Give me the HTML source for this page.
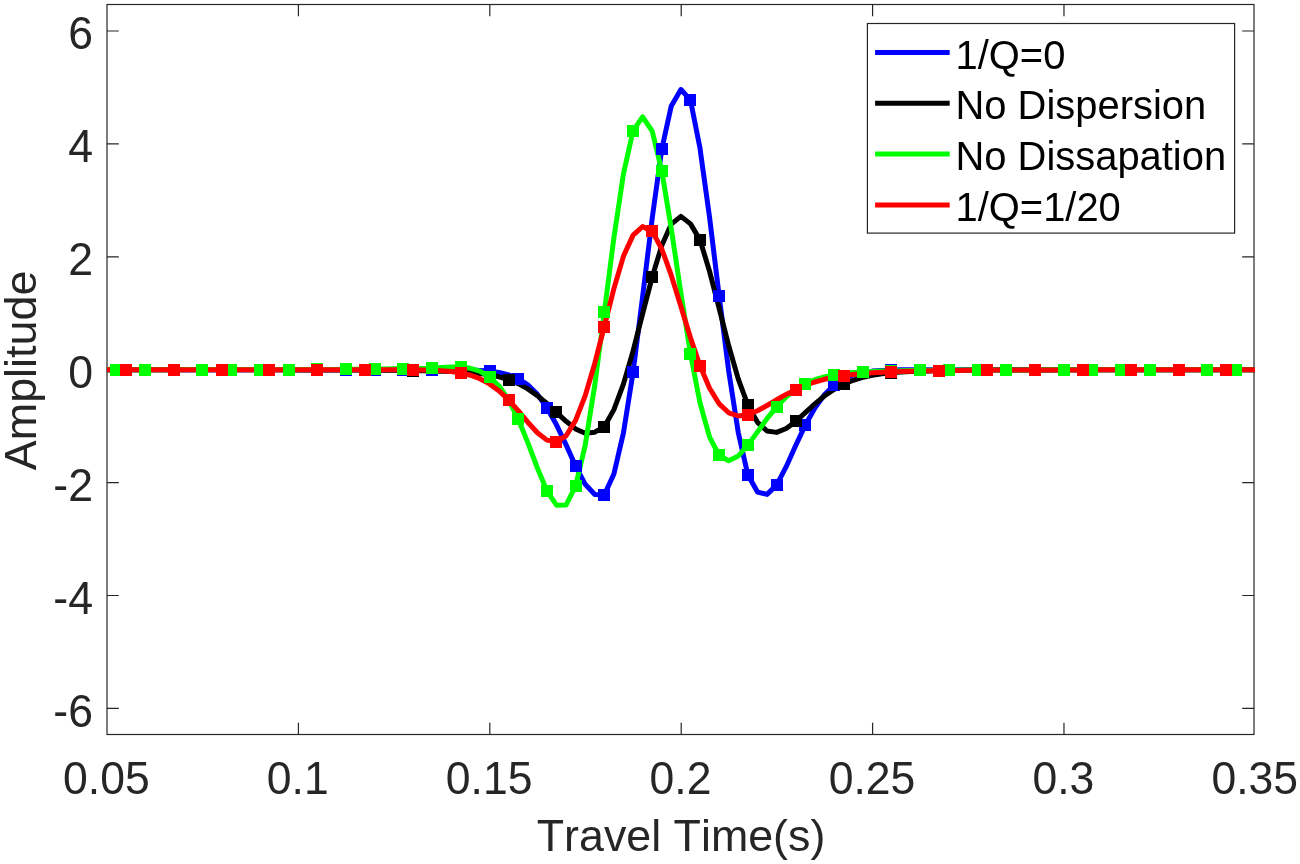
<!DOCTYPE html>
<html lang="en"><head><meta charset="utf-8"><title>Amplitude vs Travel Time</title>
<style>html,body{margin:0;padding:0;background:#fff}svg{display:block}</style></head>
<body>
<svg width="1300" height="864" viewBox="0 0 1300 864">
<rect width="1300" height="864" fill="#fff"/>
<path d="M298.42 734.50V722.70M298.42 4.50V16.30M489.81 734.50V722.70M489.81 4.50V16.30M681.20 734.50V722.70M681.20 4.50V16.30M872.59 734.50V722.70M872.59 4.50V16.30M1063.98 734.50V722.70M1063.98 4.50V16.30M107.00 708.40H118.80M1254.00 708.40H1242.20M107.00 595.50H118.80M1254.00 595.50H1242.20M107.00 482.60H118.80M1254.00 482.60H1242.20M107.00 369.70H118.80M1254.00 369.70H1242.20M107.00 256.80H118.80M1254.00 256.80H1242.20M107.00 143.90H118.80M1254.00 143.90H1242.20M107.00 31.00H118.80M1254.00 31.00H1242.20" stroke="#262626" stroke-width="1.2" fill="none"/>
<rect x="107.00" y="4.50" width="1147.00" height="730.00" stroke="#262626" stroke-width="1.2" fill="none"/>
<defs><clipPath id="ax"><rect x="106.7" y="4.5" width="1148.3" height="730.0"/></clipPath></defs>
<g clip-path="url(#ax)" fill="none" stroke-width="5" stroke-linejoin="round" stroke-linecap="butt">
<polyline stroke="#0000ff" points="106.7,369.7 116.3,369.7 125.9,369.7 135.4,369.7 145.0,369.7 154.6,369.7 164.1,369.7 173.7,369.7 183.3,369.7 192.9,369.7 202.4,369.7 212.0,369.7 221.6,369.7 231.1,369.7 240.7,369.7 250.3,369.7 259.8,369.7 269.4,369.7 279.0,369.7 288.6,369.7 298.1,369.7 307.7,369.7 317.3,369.7 326.8,369.7 336.4,369.7 346.0,369.7 355.5,369.7 365.1,369.7 374.7,369.7 384.2,369.7 393.8,369.7 403.4,369.7 413.0,369.7 422.5,369.7 432.1,369.7 441.7,369.7 451.2,369.8 460.8,369.8 470.4,370.0 479.9,370.4 489.5,371.1 499.1,372.5 508.6,374.9 518.2,378.5 527.8,384.9 537.4,394.4 546.9,407.7 556.5,424.8 566.1,444.9 575.6,466.0 585.2,484.3 594.8,494.5 604.3,494.9 613.9,474.0 623.5,432.6 633.1,372.0 642.6,296.8 652.2,218.3 661.8,149.0 671.3,105.9 680.9,89.5 690.5,100.2 700.0,148.3 709.6,217.7 719.2,296.3 728.7,371.1 738.3,432.7 747.9,475.1 757.5,492.1 767.0,494.4 776.6,485.1 786.2,466.7 795.7,445.5 805.3,425.1 814.9,408.1 824.4,394.8 834.0,385.3 843.6,378.9 853.2,374.9 862.7,372.5 872.3,371.1 881.9,370.4 891.4,370.0 901.0,369.8 910.6,369.8 920.1,369.7 929.7,369.7 939.3,369.7 948.8,369.7 958.4,369.7 968.0,369.7 977.6,369.7 987.1,369.7 996.7,369.7 1006.3,369.7 1015.8,369.7 1025.4,369.7 1035.0,369.7 1044.5,369.7 1054.1,369.7 1063.7,369.7 1073.2,369.7 1082.8,369.7 1092.4,369.7 1102.0,369.7 1111.5,369.7 1121.1,369.7 1130.7,369.7 1140.2,369.7 1149.8,369.7 1159.4,369.7 1168.9,369.7 1178.5,369.7 1188.1,369.7 1197.7,369.7 1207.2,369.7 1216.8,369.7 1226.4,369.7 1235.9,369.7 1245.5,369.7 1255.1,369.7"/>
<polyline stroke="#000000" points="106.7,369.7 116.3,369.7 125.9,369.7 135.4,369.7 145.0,369.7 154.6,369.7 164.1,369.7 173.7,369.7 183.3,369.8 192.9,369.8 202.4,369.8 212.0,369.8 221.6,369.8 231.1,369.8 240.7,369.8 250.3,369.8 259.8,369.8 269.4,369.8 279.0,369.8 288.6,369.8 298.1,369.9 307.7,369.9 317.3,369.9 326.8,369.9 336.4,369.9 346.0,370.0 355.5,370.0 365.1,370.1 374.7,370.1 384.2,370.2 393.8,370.3 403.4,370.4 413.0,370.5 422.5,370.7 432.1,370.9 441.7,371.2 451.2,371.5 460.8,372.1 470.4,372.7 479.9,373.5 489.5,374.9 499.1,376.8 508.6,379.6 518.2,383.6 527.8,388.9 537.4,395.6 546.9,403.5 556.5,412.4 566.1,421.3 575.6,428.9 585.2,433.3 594.8,432.2 604.3,426.7 613.9,409.6 623.5,383.9 633.1,350.9 642.6,313.8 652.2,277.0 661.8,245.5 671.3,224.1 680.9,216.4 690.5,223.9 700.0,239.9 709.6,271.5 719.2,308.5 728.7,345.8 738.3,379.1 747.9,405.1 757.5,422.3 767.0,431.0 776.6,432.4 786.2,428.5 795.7,421.4 805.3,412.6 814.9,403.9 824.4,396.0 834.0,389.5 843.6,384.3 853.2,380.3 862.7,377.4 872.3,375.3 881.9,373.8 891.4,372.8 901.0,372.1 910.6,371.5 920.1,371.2 929.7,370.9 939.3,370.7 948.8,370.5 958.4,370.4 968.0,370.3 977.6,370.2 987.1,370.1 996.7,370.1 1006.3,370.0 1015.8,370.0 1025.4,369.9 1035.0,369.9 1044.5,369.9 1054.1,369.9 1063.7,369.9 1073.2,369.8 1082.8,369.8 1092.4,369.8 1102.0,369.8 1111.5,369.8 1121.1,369.8 1130.7,369.8 1140.2,369.8 1149.8,369.8 1159.4,369.8 1168.9,369.8 1178.5,369.8 1188.1,369.7 1197.7,369.7 1207.2,369.7 1216.8,369.7 1226.4,369.7 1235.9,369.7 1245.5,369.7 1255.1,369.7"/>
<polyline stroke="#00ff00" points="106.7,369.7 116.3,369.7 125.9,369.7 135.4,369.7 145.0,369.7 154.6,369.7 164.1,369.7 173.7,369.7 183.3,369.6 192.9,369.6 202.4,369.6 212.0,369.6 221.6,369.6 231.1,369.6 240.7,369.6 250.3,369.6 259.8,369.6 269.4,369.6 279.0,369.6 288.6,369.5 298.1,369.5 307.7,369.5 317.3,369.5 326.8,369.4 336.4,369.4 346.0,369.3 355.5,369.3 365.1,369.2 374.7,369.1 384.2,368.9 393.8,368.8 403.4,368.5 413.0,368.5 422.5,368.4 432.1,368.2 441.7,367.6 451.2,367.1 460.8,367.0 470.4,368.3 479.9,371.2 489.5,377.0 499.1,386.0 508.6,400.0 518.2,419.0 527.8,442.6 537.4,468.0 546.9,490.8 556.5,505.2 566.1,505.0 575.6,486.1 585.2,445.2 594.8,385.0 604.3,312.3 613.9,237.8 623.5,173.6 633.1,130.7 642.6,116.8 652.2,131.2 661.8,171.0 671.3,228.9 680.9,293.1 690.5,353.9 700.0,403.0 709.6,437.1 719.2,455.5 728.7,460.7 738.3,455.9 747.9,445.1 757.5,431.9 767.0,418.6 776.6,406.8 786.2,396.9 795.7,389.3 805.3,383.8 814.9,379.7 824.4,376.9 834.0,374.9 843.6,373.6 853.2,372.6 862.7,372.0 872.3,371.5 881.9,371.1 891.4,370.9 901.0,370.7 910.6,370.5 920.1,370.4 929.7,370.3 939.3,370.2 948.8,370.1 958.4,370.1 968.0,370.0 977.6,370.0 987.1,370.0 996.7,369.9 1006.3,369.9 1015.8,369.9 1025.4,369.9 1035.0,369.8 1044.5,369.8 1054.1,369.8 1063.7,369.8 1073.2,369.8 1082.8,369.8 1092.4,369.8 1102.0,369.8 1111.5,369.8 1121.1,369.8 1130.7,369.8 1140.2,369.8 1149.8,369.7 1159.4,369.7 1168.9,369.7 1178.5,369.7 1188.1,369.7 1197.7,369.7 1207.2,369.7 1216.8,369.7 1226.4,369.7 1235.9,369.7 1245.5,369.7 1255.1,369.7"/>
<polyline stroke="#ff0000" points="106.7,369.7 116.3,369.7 125.9,369.7 135.4,369.7 145.0,369.7 154.6,369.7 164.1,369.7 173.7,369.7 183.3,369.7 192.9,369.7 202.4,369.7 212.0,369.7 221.6,369.7 231.1,369.7 240.7,369.7 250.3,369.7 259.8,369.7 269.4,369.7 279.0,369.7 288.6,369.7 298.1,369.7 307.7,369.7 317.3,369.7 326.8,369.7 336.4,369.7 346.0,369.7 355.5,369.7 365.1,369.7 374.7,369.7 384.2,369.7 393.8,369.7 403.4,369.7 413.0,369.8 422.5,369.9 432.1,370.2 441.7,370.7 451.2,371.5 460.8,372.9 470.4,375.2 479.9,378.7 489.5,383.9 499.1,390.9 508.6,399.9 518.2,410.7 527.8,422.2 537.4,432.7 546.9,440.1 556.5,441.9 566.1,435.8 575.6,420.4 585.2,395.7 594.8,363.2 604.3,326.5 613.9,288.6 623.5,256.1 633.1,235.1 642.6,226.6 652.2,231.4 661.8,249.0 671.3,275.4 680.9,306.5 690.5,337.8 700.0,365.7 709.6,388.3 719.2,403.9 728.7,412.8 738.3,416.0 747.9,414.8 757.5,410.8 767.0,405.5 776.6,399.8 786.2,394.4 795.7,389.7 805.3,385.4 814.9,382.0 824.4,379.3 834.0,377.2 843.6,375.5 853.2,374.4 862.7,373.5 872.3,372.8 881.9,372.2 891.4,371.8 901.0,371.5 910.6,371.2 920.1,371.0 929.7,370.8 939.3,370.6 948.8,370.5 958.4,370.4 968.0,370.3 977.6,370.2 987.1,370.2 996.7,370.1 1006.3,370.1 1015.8,370.0 1025.4,370.0 1035.0,370.0 1044.5,369.9 1054.1,369.9 1063.7,369.9 1073.2,369.9 1082.8,369.9 1092.4,369.9 1102.0,369.8 1111.5,369.8 1121.1,369.8 1130.7,369.8 1140.2,369.8 1149.8,369.8 1159.4,369.8 1168.9,369.8 1178.5,369.8 1188.1,369.8 1197.7,369.8 1207.2,369.8 1216.8,369.8 1226.4,369.8 1235.9,369.7 1245.5,369.7 1255.1,369.7"/>
<g fill="#0000ff"><rect x="110" y="364" width="12" height="12"/><rect x="139" y="364" width="12" height="12"/><rect x="168" y="364" width="12" height="12"/><rect x="196" y="364" width="12" height="12"/><rect x="225" y="364" width="12" height="12"/><rect x="254" y="364" width="12" height="12"/><rect x="283" y="364" width="12" height="12"/><rect x="311" y="364" width="12" height="12"/><rect x="340" y="364" width="12" height="12"/><rect x="369" y="364" width="12" height="12"/><rect x="397" y="364" width="12" height="12"/><rect x="426" y="364" width="12" height="12"/><rect x="455" y="364" width="12" height="12"/><rect x="484" y="365" width="12" height="12"/><rect x="512" y="373" width="12" height="12"/><rect x="541" y="402" width="12" height="12"/><rect x="570" y="460" width="12" height="12"/><rect x="598" y="489" width="12" height="12"/><rect x="627" y="366" width="12" height="12"/><rect x="656" y="143" width="12" height="12"/><rect x="684" y="94" width="12" height="12"/><rect x="713" y="290" width="12" height="12"/><rect x="742" y="469" width="12" height="12"/><rect x="771" y="479" width="12" height="12"/><rect x="799" y="419" width="12" height="12"/><rect x="828" y="379" width="12" height="12"/><rect x="857" y="366" width="12" height="12"/><rect x="885" y="364" width="12" height="12"/><rect x="914" y="364" width="12" height="12"/><rect x="943" y="364" width="12" height="12"/><rect x="972" y="364" width="12" height="12"/><rect x="1000" y="364" width="12" height="12"/><rect x="1029" y="364" width="12" height="12"/><rect x="1058" y="364" width="12" height="12"/><rect x="1086" y="364" width="12" height="12"/><rect x="1115" y="364" width="12" height="12"/><rect x="1144" y="364" width="12" height="12"/><rect x="1173" y="364" width="12" height="12"/><rect x="1201" y="364" width="12" height="12"/><rect x="1230" y="364" width="12" height="12"/></g>
<g fill="#000000"><rect x="120" y="364" width="12" height="12"/><rect x="168" y="364" width="12" height="12"/><rect x="216" y="364" width="12" height="12"/><rect x="263" y="364" width="12" height="12"/><rect x="311" y="364" width="12" height="12"/><rect x="359" y="364" width="12" height="12"/><rect x="407" y="365" width="12" height="12"/><rect x="455" y="366" width="12" height="12"/><rect x="503" y="374" width="12" height="12"/><rect x="550" y="406" width="12" height="12"/><rect x="598" y="421" width="12" height="12"/><rect x="646" y="271" width="12" height="12"/><rect x="694" y="234" width="12" height="12"/><rect x="742" y="399" width="12" height="12"/><rect x="790" y="415" width="12" height="12"/><rect x="838" y="378" width="12" height="12"/><rect x="885" y="367" width="12" height="12"/><rect x="933" y="365" width="12" height="12"/><rect x="981" y="364" width="12" height="12"/><rect x="1029" y="364" width="12" height="12"/><rect x="1077" y="364" width="12" height="12"/><rect x="1125" y="364" width="12" height="12"/><rect x="1173" y="364" width="12" height="12"/><rect x="1220" y="364" width="12" height="12"/></g>
<g fill="#00ff00"><rect x="110" y="364" width="12" height="12"/><rect x="139" y="364" width="12" height="12"/><rect x="168" y="364" width="12" height="12"/><rect x="196" y="364" width="12" height="12"/><rect x="225" y="364" width="12" height="12"/><rect x="254" y="364" width="12" height="12"/><rect x="283" y="364" width="12" height="12"/><rect x="311" y="363" width="12" height="12"/><rect x="340" y="363" width="12" height="12"/><rect x="369" y="363" width="12" height="12"/><rect x="397" y="363" width="12" height="12"/><rect x="426" y="362" width="12" height="12"/><rect x="455" y="361" width="12" height="12"/><rect x="484" y="371" width="12" height="12"/><rect x="512" y="413" width="12" height="12"/><rect x="541" y="485" width="12" height="12"/><rect x="570" y="480" width="12" height="12"/><rect x="598" y="306" width="12" height="12"/><rect x="627" y="125" width="12" height="12"/><rect x="656" y="165" width="12" height="12"/><rect x="684" y="348" width="12" height="12"/><rect x="713" y="449" width="12" height="12"/><rect x="742" y="439" width="12" height="12"/><rect x="771" y="401" width="12" height="12"/><rect x="799" y="378" width="12" height="12"/><rect x="828" y="369" width="12" height="12"/><rect x="857" y="366" width="12" height="12"/><rect x="885" y="365" width="12" height="12"/><rect x="914" y="364" width="12" height="12"/><rect x="943" y="364" width="12" height="12"/><rect x="972" y="364" width="12" height="12"/><rect x="1000" y="364" width="12" height="12"/><rect x="1029" y="364" width="12" height="12"/><rect x="1058" y="364" width="12" height="12"/><rect x="1086" y="364" width="12" height="12"/><rect x="1115" y="364" width="12" height="12"/><rect x="1144" y="364" width="12" height="12"/><rect x="1173" y="364" width="12" height="12"/><rect x="1201" y="364" width="12" height="12"/><rect x="1230" y="364" width="12" height="12"/></g>
<g fill="#ff0000"><rect x="120" y="364" width="12" height="12"/><rect x="168" y="364" width="12" height="12"/><rect x="216" y="364" width="12" height="12"/><rect x="263" y="364" width="12" height="12"/><rect x="311" y="364" width="12" height="12"/><rect x="359" y="364" width="12" height="12"/><rect x="407" y="364" width="12" height="12"/><rect x="455" y="367" width="12" height="12"/><rect x="503" y="394" width="12" height="12"/><rect x="550" y="436" width="12" height="12"/><rect x="598" y="321" width="12" height="12"/><rect x="646" y="225" width="12" height="12"/><rect x="694" y="360" width="12" height="12"/><rect x="742" y="409" width="12" height="12"/><rect x="790" y="384" width="12" height="12"/><rect x="838" y="370" width="12" height="12"/><rect x="885" y="366" width="12" height="12"/><rect x="933" y="365" width="12" height="12"/><rect x="981" y="364" width="12" height="12"/><rect x="1029" y="364" width="12" height="12"/><rect x="1077" y="364" width="12" height="12"/><rect x="1125" y="364" width="12" height="12"/><rect x="1173" y="364" width="12" height="12"/><rect x="1220" y="364" width="12" height="12"/></g>
</g>
<g font-family="Liberation Sans, Arial, sans-serif" font-size="44" fill="#262626" style="font-kerning:none">
<text transform="translate(106.38 794.20) scale(1.012 1.04)" text-anchor="middle">0.05</text>
<text transform="translate(297.77 794.20) scale(1.012 1.04)" text-anchor="middle">0.1</text>
<text transform="translate(489.16 794.20) scale(1.012 1.04)" text-anchor="middle">0.15</text>
<text transform="translate(680.55 794.20) scale(1.012 1.04)" text-anchor="middle">0.2</text>
<text transform="translate(871.94 794.20) scale(1.012 1.04)" text-anchor="middle">0.25</text>
<text transform="translate(1063.33 794.20) scale(1.012 1.04)" text-anchor="middle">0.3</text>
<text transform="translate(1254.72 794.20) scale(1.012 1.04)" text-anchor="middle">0.35</text>
<text transform="translate(93.00 726.80) scale(1.015 1.04)" text-anchor="end">-6</text>
<text transform="translate(93.00 613.90) scale(1.015 1.04)" text-anchor="end">-4</text>
<text transform="translate(93.00 501.00) scale(1.015 1.04)" text-anchor="end">-2</text>
<text transform="translate(93.00 388.10) scale(1.015 1.04)" text-anchor="end">0</text>
<text transform="translate(93.00 275.20) scale(1.015 1.04)" text-anchor="end">2</text>
<text transform="translate(93.00 162.30) scale(1.015 1.04)" text-anchor="end">4</text>
<text transform="translate(93.00 49.40) scale(1.015 1.04)" text-anchor="end">6</text>
<text transform="translate(681.00 850.80) scale(1.018 1.02)" text-anchor="middle">Travel Time(s)</text>
<text transform="translate(35.80 370.40) rotate(-90) scale(1.02 1)" text-anchor="middle">Amplitude</text>
</g>
<rect x="867.4" y="23.5" width="367.2" height="209.6" fill="#fff" stroke="#262626" stroke-width="1.2"/>
<g font-family="Liberation Sans, Arial, sans-serif" font-size="39.6" fill="#000" style="font-kerning:none">
<path d="M875.1 52.5H949.7" stroke="#0000ff" stroke-width="5"/>
<text transform="translate(955.50 68.50) scale(1.008 1.04)" text-anchor="start">1/Q=0</text>
<path d="M875.1 103.3H949.7" stroke="#000000" stroke-width="5"/>
<text transform="translate(955.50 119.30) scale(1.008 1.015)" text-anchor="start">No Dispersion</text>
<path d="M875.1 154.1H949.7" stroke="#00ff00" stroke-width="5"/>
<text transform="translate(955.50 170.10) scale(1.008 1.015)" text-anchor="start">No Dissapation</text>
<path d="M875.1 204.9H949.7" stroke="#ff0000" stroke-width="5"/>
<text transform="translate(955.50 220.90) scale(1.008 1.04)" text-anchor="start">1/Q=1/20</text>
</g>
</svg>
</body></html>
